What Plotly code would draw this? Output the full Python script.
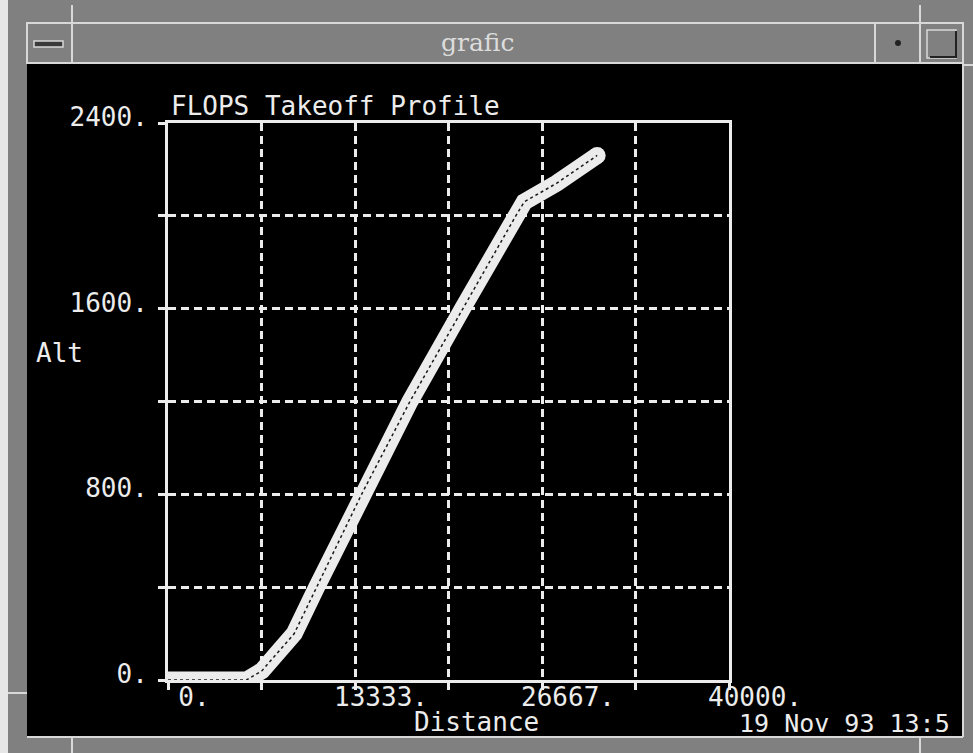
import plotly.graph_objects as go

# Takeoff trajectory: ground distance vs altitude
distance = [0, 5600, 6700, 9000, 10600, 13800, 17250, 21000, 24800, 25400, 27700, 30600]
altitude = [0, 0, 40, 200, 400, 800, 1200, 1600, 2000, 2060, 2140, 2260]

x_ticks = [0, 6666.67, 13333.33, 20000, 26666.67, 33333.33, 40000]
x_ticktext = ["0.", "", "13333.", "", "26667.", "", "40000."]
y_ticks = [0, 400, 800, 1200, 1600, 2000, 2400]
y_ticktext = ["0.", "", "800.", "", "1600.", "", "2400."]

W, H = 973, 753
L, R, T, B = 168, 729, 123, 680  # plot area in pixels

def px(x):
    return (x - L) / (R - L)

def py(y):
    return (B - y) / (B - T)

FG = "#ececec"
MONO = "DejaVu Sans Mono"
STIPPLE = "#808080"

fig = go.Figure()
fig.add_trace(go.Scatter(
    x=distance, y=altitude, mode="lines",
    line=dict(color=FG, width=17), cliponaxis=False, showlegend=False,
))
fig.add_trace(go.Scatter(
    x=distance[-1:], y=altitude[-1:], mode="markers",
    marker=dict(color=FG, size=17, line=dict(width=0)), cliponaxis=False, showlegend=False,
))
fig.add_trace(go.Scatter(
    x=distance, y=altitude, mode="lines",
    line=dict(color="#1a1a1a", width=1.5, dash="dot"), cliponaxis=False, showlegend=False,
))

axis_common = dict(
    showline=True, mirror=True, linecolor=FG, linewidth=3,
    showgrid=True, gridcolor=FG, gridwidth=3, griddash="8px,5px",
    zeroline=False, ticks="outside", ticklen=7, tickwidth=3, tickcolor=FG,
    tickmode="array", tickfont=dict(family=MONO, size=26, color=FG),
)
fig.update_xaxes(range=[0, 40000], tickvals=x_ticks, ticktext=x_ticktext,
                 ticklabelshift=26, ticklabelstandoff=-15, **axis_common)
fig.update_yaxes(range=[0, 2400], tickvals=y_ticks, ticktext=y_ticktext,
                 ticklabelshift=-6, ticklabelstandoff=5, **axis_common)

shapes = []
def rect(x0, y0, x1, y1, fill, line_color=None, lw=0):
    shapes.append(dict(type="rect", xref="paper", yref="paper",
                       x0=px(x0), x1=px(x1), y0=py(y0), y1=py(y1),
                       fillcolor=fill, layer="above",
                       line=dict(color=line_color or fill, width=lw)))

def seg(x0, y0, x1, y1, color="#d8d8d8", lw=2):
    shapes.append(dict(type="line", xref="paper", yref="paper",
                       x0=px(x0), x1=px(x1), y0=py(y0), y1=py(y1),
                       layer="above", line=dict(color=color, width=lw)))

# window frame
rect(0, 0, 8, H, "#e6e6e6")
rect(8, 0, W, 23, STIPPLE)
rect(8, 0, 27, H, STIPPLE)
rect(963, 0, W, H, STIPPLE)
rect(8, 737, W, H, STIPPLE)
rect(27, 23, 963, 63, STIPPLE, "#d8d8d8", 2)
seg(27, 737, 963, 737)
seg(963, 63, 963, 737)
seg(72, 5, 72, 63)
seg(875, 23, 875, 63)
seg(920, 5, 920, 63)
seg(72, 737, 72, H)
seg(920, 737, 920, H)
seg(8, 693, 27, 693)
seg(963, 65, W, 65)
# window buttons
rect(34, 41, 63, 47, "#3a3a3a", "#d8d8d8", 1.5)
rect(927, 30, 956, 58, STIPPLE, "#d8d8d8", 1.5)
seg(930, 57, 957, 57, "#222222", 2)
seg(956, 31, 956, 57, "#222222", 2)
shapes.append(dict(type="circle", xref="paper", yref="paper",
                   x0=px(895), x1=px(901), y0=py(40), y1=py(46),
                   fillcolor="#222222", line=dict(width=0), layer="above"))

def label(text, x, y, xanchor="center", family=MONO, size=26, color=FG):
    return dict(text=text, xref="paper", yref="paper", x=px(x), y=py(y),
                xanchor=xanchor, yanchor="middle", showarrow=False,
                font=dict(family=family, size=size, color=color))

annotations = [
    label("grafic", 478, 43, family="DejaVu Serif", size=25, color="#dcdcdc"),
    label("Alt", 34, 353, xanchor="left"),
    label("Distance", 476, 722),
    label("19 Nov 93 13:5", 737, 723, xanchor="left", size=25),
]

fig.update_layout(
    width=W, height=H, autosize=False,
    margin=dict(l=L, r=W - R, t=T, b=H - B),
    paper_bgcolor="black", plot_bgcolor="black",
    title=dict(text="FLOPS Takeoff Profile", xref="paper", x=px(171), xanchor="left",
               yref="container", y=1 - 106 / H, yanchor="middle",
               font=dict(family=MONO, size=26, color=FG)),
    shapes=shapes, annotations=annotations, showlegend=False,
)

fig.write_html("out.html")
